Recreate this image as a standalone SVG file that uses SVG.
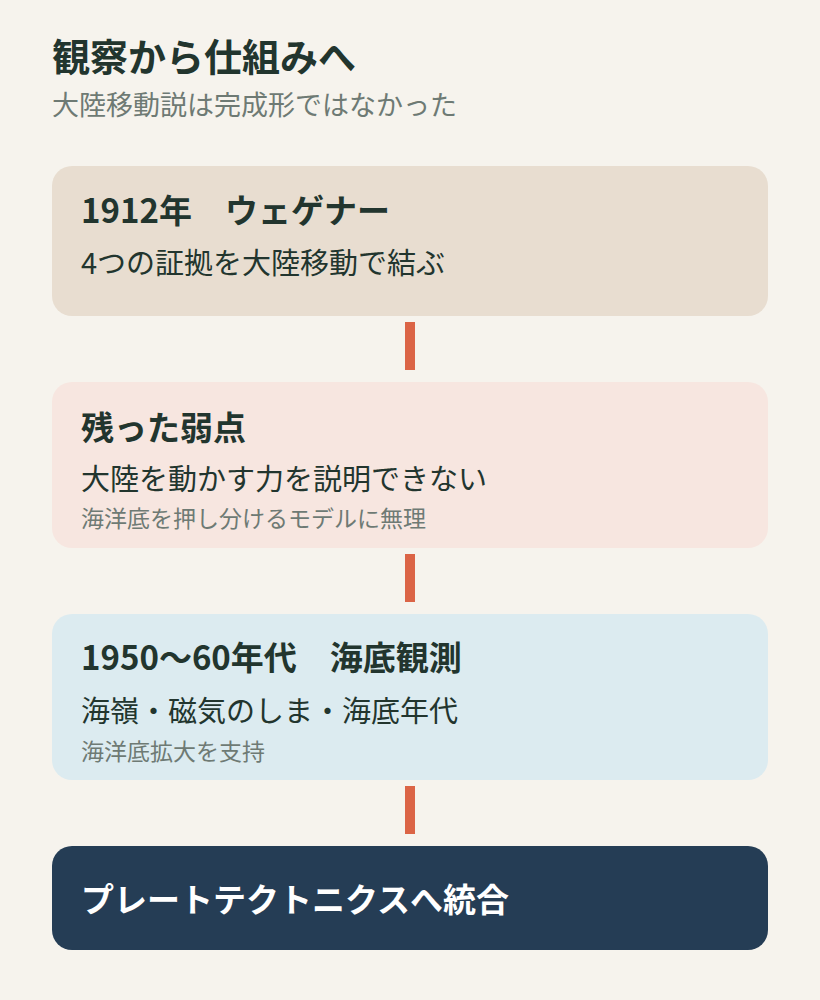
<svg xmlns="http://www.w3.org/2000/svg" width="820" height="1000" viewBox="0 0 820 1000">
<style>
text{font-family:"Noto Sans CJK JP","Noto Sans",sans-serif;}
.h{font-size:33px;font-weight:700;fill:#22352e;}
.b{font-size:29px;fill:#22352e;}
.s{font-size:23px;fill:#6e7a74;}
.c{fill:#db6446;}
</style>
<rect width="820" height="1000" fill="#f6f3ed"/>
<text x="52" y="71" style="font-size:38px;font-weight:700;fill:#22352e">観察から仕組みへ</text>
<text x="52" y="115" style="font-size:27px;fill:#6e7a74">大陸移動説は完成形ではなかった</text>
<g id="connectors">
<rect class="c" x="405" y="322" width="10" height="48"/>
<rect class="c" x="405" y="554" width="10" height="48"/>
<rect class="c" x="405" y="786" width="10" height="48"/>
</g>
<g id="n1">
<rect x="52" y="166" width="716" height="150" rx="20" fill="#e8ddd0"/>
<text class="h" x="81" y="223">1912年　ウェゲナー</text>
<text class="b" x="81" y="274">4つの証拠を大陸移動で結ぶ</text>
</g>
<g id="n2">
<rect x="52" y="382" width="716" height="166" rx="20" fill="#f7e6e0"/>
<text class="h" x="81" y="440">残った弱点</text>
<text class="b" x="81" y="490">大陸を動かす力を説明できない</text>
<text class="s" x="81" y="527">海洋底を押し分けるモデルに無理</text>
</g>
<g id="n3">
<rect x="52" y="614" width="716" height="166" rx="20" fill="#dcebf0"/>
<text class="h" x="81" y="670">1950〜60年代　海底観測</text>
<text class="b" x="81" y="722">海嶺・磁気のしま・海底年代</text>
<text class="s" x="81" y="760">海洋底拡大を支持</text>
</g>
<g id="n4">
<rect x="52" y="846" width="716" height="104" rx="20" fill="#253d55"/>
<text x="81" y="912" style="font-size:33px;font-weight:700;fill:#ffffff">プレートテクトニクスへ統合</text>
</g>
</svg>
